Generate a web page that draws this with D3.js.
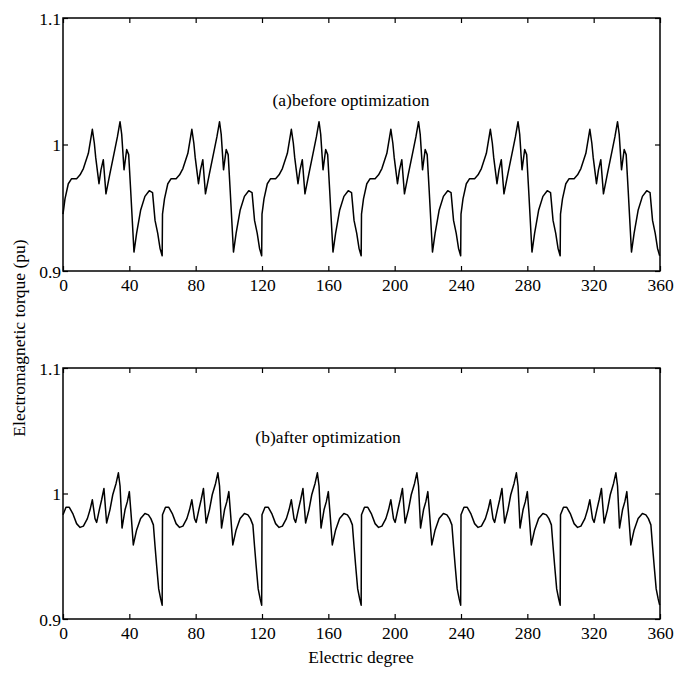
<!DOCTYPE html>
<html>
<head>
<meta charset="utf-8">
<script src="https://cdn.jsdelivr.net/npm/d3@7"></script>
<style>
  body { margin: 0; background: #fff; }
  text { font-family: "Liberation Serif", "Times New Roman", serif; }
</style>
</head>
<body>
<div id="chart-area"></div>
<script>

// one 60-degree period (the curve repeats 6 times)
var beforeDeg = [0, 1.2, 3.2, 5.2, 8.2, 10.3, 12.3, 15.3, 17.7, 18.9, 19.7, 21.7, 22.9, 24.3, 25.9, 28.3,
	31.4, 32.8, 34.4, 35.4, 36.8, 38.4, 39.6, 40.8, 42.8, 44.4, 46.8, 49.4, 52, 54, 55.5, 57.1, 58.5, 59.8];
var beforeVal = [0.945, 0.957, 0.969, 0.973, 0.973, 0.976, 0.981, 0.993, 1.012, 1.001, 0.990, 0.969, 0.980, 0.988, 0.961, 0.977,
	0.997, 1.006, 1.018, 1.008, 0.980, 0.996, 0.992, 0.964, 0.915, 0.930, 0.948, 0.959, 0.9635, 0.962, 0.940, 0.930, 0.918, 0.912];

var afterDeg = [0, 1.8, 3.8, 5.9, 8.2, 10.3, 12.3, 14.7, 16.3, 17.7, 19.3, 20.3, 21.9, 23.3, 24.7, 26.3, 28.3,
	30, 32, 33.4, 34.4, 35.6, 37.4, 38.8, 40, 41.2, 42.4, 44.4, 46.8, 49.4, 51.5, 53, 54.5, 55.5, 56.5, 57.7, 58.9, 59.8];
var afterVal = [0.983, 0.989, 0.989, 0.984, 0.976, 0.973, 0.974, 0.980, 0.987, 0.995, 0.980, 0.977, 0.987, 0.995, 1.004, 0.9765, 0.987,
	0.999, 1.008, 1.0165, 1.006, 0.9725, 0.987, 0.9935, 1.0015, 0.981, 0.959, 0.971, 0.980, 0.984, 0.983, 0.980, 0.975, 0.958, 0.942, 0.924, 0.916, 0.911];

var periods = [0, 60, 120, 180, 240, 300];
var xTicks = [0, 40, 80, 120, 160, 200, 240, 280, 320, 360];
var yTicks = [0.9, 1, 1.1];
var titles = ["(a)before optimization", "(b)after optimization"];

var width = 679,
		height = 675;

var svg = d3.select("#chart-area").append("svg")
	.attr("width", width)
	.attr("height", height);

function tile(degs, vals) {
	var out = [];
	periods.forEach(function(p) {
		degs.forEach(function(d, i) {
			out.push([p + d, vals[i]]);
		});
	});
	return out;
}

var panels = [
	{top: 18, bottom: 271, data: tile(beforeDeg, beforeVal), title: titles[0], tx: 351, ty: 106},
	{top: 368, bottom: 619, data: tile(afterDeg, afterVal), title: titles[1], tx: 328, ty: 443}
];

var left = 63, right = 660;

var x = d3.scaleLinear()
	.domain([0, 360])
	.range([left, right]);

panels.forEach(function(p) {
	var y = d3.scaleLinear()
		.domain([0.9, 1.1])
		.range([p.bottom, p.top]);

	var g = svg.append("g");

	var line = d3.line()
		.x(function(d) { return x(d[0]); })
		.y(function(d) { return y(d[1]); });

	g.append("path")
		.datum(p.data)
		.attr("d", line)
		.attr("fill", "none")
		.attr("stroke", "#000")
		.attr("stroke-width", 1.5)
		.attr("stroke-linejoin", "round");

	// axes with inward ticks
	var xb = g.append("g")
		.attr("transform", "translate(0," + p.bottom + ")")
		.call(d3.axisBottom(x).tickValues(xTicks).tickSizeInner(-5).tickSizeOuter(0).tickPadding(8));
	var xt = g.append("g")
		.attr("transform", "translate(0," + p.top + ")")
		.call(d3.axisTop(x).tickValues(xTicks).tickSizeInner(-5).tickSizeOuter(0).tickFormat(""));
	var yl = g.append("g")
		.attr("transform", "translate(" + left + ",0)")
		.call(d3.axisLeft(y).tickValues(yTicks).tickSizeInner(-5).tickSizeOuter(0).tickPadding(2)
			.tickFormat(function(d) { return d3.format("")(+d.toFixed(1)); }));
	var yr = g.append("g")
		.attr("transform", "translate(" + right + ",0)")
		.call(d3.axisRight(y).tickValues(yTicks).tickSizeInner(-5).tickSizeOuter(0).tickFormat(""));

	[xb, xt, yl, yr].forEach(function(a) {
		a.select(".domain").remove();
		a.selectAll("line").attr("stroke", "#000").attr("stroke-width", 1.2);
		a.selectAll("text")
			.attr("fill", "#000")
			.style("font-size", "17.5px")
			.style("font-family", "'Liberation Serif', serif");
	});
	yl.selectAll("text").attr("dy", "0.35em");

	g.append("rect")
		.attr("x", left)
		.attr("y", p.top)
		.attr("width", right - left)
		.attr("height", p.bottom - p.top)
		.attr("fill", "none")
		.attr("stroke", "#000")
		.attr("stroke-width", 1.5);

	g.append("text")
		.attr("x", p.tx)
		.attr("y", p.ty)
		.attr("text-anchor", "middle")
		.style("font-size", "17.5px")
		.text(p.title);
});

svg.append("text")
	.attr("x", 361)
	.attr("y", 663)
	.attr("text-anchor", "middle")
	.style("font-size", "17.5px")
	.text("Electric degree");

svg.append("text")
	.attr("transform", "translate(25,338) rotate(-90)")
	.attr("text-anchor", "middle")
	.style("font-size", "17.5px")
	.text("Electromagnetic torque (pu)");

</script>
</body>
</html>
